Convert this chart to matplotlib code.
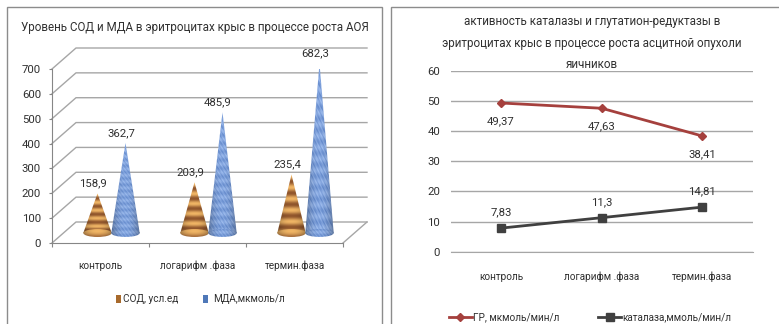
#!/usr/bin/env python
import matplotlib as mpl
mpl.use('Agg')
import matplotlib.pyplot as plt
from matplotlib.patches import Polygon, Ellipse, Rectangle
from matplotlib.transforms import Affine2D
import numpy as np

W, H = 779, 324
dpi = 100.0

plt.rcParams['font.family'] = ['Roboto', 'DejaVu Sans']

categories = ['контроль', 'логарифм .фаза', 'термин.фаза']

title_left = 'Уровень СОД и МДА в эритроцитах крыс в процессе роста АОЯ'
sod_name = 'СОД, усл.ед'
mda_name = 'МДА,мкмоль/л'
sod = [158.9, 203.9, 235.4]
mda = [362.7, 485.9, 682.3]
left_ticks = [0, 100, 200, 300, 400, 500, 600, 700]

title_right = ['активность каталазы и глутатион-редуктазы в',
               'эритроцитах крыс в процессе роста асцитной опухоли',
               'яичников']
gr_name = 'ГР, мкмоль/мин/л'
cat_name = 'каталаза,ммоль/мин/л'
gr = [49.37, 47.63, 38.41]
catalase = [7.83, 11.3, 14.81]
right_ticks = [0, 10, 20, 30, 40, 50, 60]

txt = '#303030'
grid = '#a6a6a6'
fs_title = 8.4
fs_val = 8.2
fs_cat = 7.2


def px_axes(fig, x0, y_top, x1, y_bot):
    return fig.add_axes([x0/W, 1-y_bot/H, (x1-x0)/W, (y_bot-y_top)/H])


def comma(v):
    return ('%g' % v).replace('.', ',')


def cone_texture(kind, n=160):
    # rows go from tip (0) to base (1), columns across the cone
    v = np.linspace(0, 1, n)[:, None]
    u = np.linspace(-1, 1, 60)[None, :]
    shade = 1.0-0.3*np.abs(u)**2.2
    if kind == 'sod':
        bands = 0.55+0.45*np.sin(v*2*np.pi*5.5+0.6)
        dark = np.array([0.50, 0.28, 0.14])
        light = np.array([0.90, 0.68, 0.38])
    else:
        bands = 0.55+0.12*np.sin(v*2*np.pi*15)+0.3*np.sin(u*37+v*83)*np.sin(v*211+u*11)
        dark = np.array([0.25, 0.41, 0.69])
        light = np.array([0.68, 0.78, 0.94])
    rgb = dark+(light-dark)*bands[:, :, None]
    return np.clip(rgb*shade[:, :, None]*1.05, 0, 1)


def draw_cone(ax, xc, val, half, kind, lift):
    ry = 16.0
    im = ax.imshow(cone_texture(kind), extent=[xc-half, xc+half, lift-ry, lift+val],
                   aspect='auto', zorder=3, interpolation='bilinear')
    body = Polygon([[xc-half, lift], [xc, lift+val], [xc+half, lift]], fc='none', ec='none')
    base = Ellipse((xc, lift), 2*half, 2*ry, fc='none', ec='none')
    ax.add_patch(body)
    ax.add_patch(base)
    im.set_clip_path(body)
    # second copy for the round bottom of the cone
    im2 = ax.imshow(cone_texture(kind)[-14:], extent=[xc-half, xc+half, lift-ry, lift+ry],
                    aspect='auto', zorder=3, interpolation='bilinear')
    im2.set_clip_path(base)


fig = plt.figure(figsize=(W/dpi, H/dpi), dpi=dpi)

# chart frames, they run off the bottom of the picture
for x0, y0, x1, y1 in [(7, 7, 382, 340), (391, 7, 790, 340)]:
    fig.add_artist(Rectangle((x0/W, 1-y1/H), (x1-x0)/W, (y1-y0)/H, transform=fig.transFigure,
                             fc='white', ec='#8c8c8c', lw=1.0, zorder=-5))

# left chart, pseudo 3d
ax1 = px_axes(fig, 52, 69, 343, 243)
ax1.patch.set_alpha(0)
ax1.set_xlim(0, 3)
ax1.set_ylim(0, 700)
dx, dy = 24.0, 21.0
for t in left_ticks:
    p0 = ax1.transData.transform((0, t))
    ax1.plot([p0[0], p0[0]+dx, p0[0]+dx+291], [p0[1], p0[1]+dy, p0[1]+dy],
             transform=Affine2D(), color=grid, lw=1.0, clip_on=False, zorder=1)
p0 = ax1.transData.transform((3, 0))
ax1.plot([p0[0], p0[0]+dx], [p0[1], p0[1]+dy], transform=Affine2D(), color=grid, lw=1.0,
         clip_on=False, zorder=1)
for s in ['top', 'right']:
    ax1.spines[s].set_visible(False)
for s in ['left', 'bottom']:
    ax1.spines[s].set_color('#868686')
ax1.set_yticks(left_ticks)
ax1.set_xticks([0, 1, 2, 3])
ax1.set_xticklabels([])
ax1.tick_params(axis='y', length=2, color='#868686', labelsize=fs_val, labelcolor=txt, pad=6)
ax1.tick_params(axis='x', length=3, color='#868686')

off_x = 11/291*3
off_y = 10/174*700
half = 14.2/291*3
for i in range(3):
    x1 = i+0.5+off_x-14.0/97
    x2 = i+0.5+off_x+14.0/97
    draw_cone(ax1, x1, sod[i], half, 'sod', off_y)
    draw_cone(ax1, x2, mda[i], half, 'mda', off_y)
    ax1.text(x1-0.046, sod[i]+off_y+40, comma(sod[i]), ha='center', va='center', fontsize=fs_val,
             color=txt, zorder=5, clip_on=False)
    ax1.text(x2-0.046, mda[i]+off_y+40, comma(mda[i]), ha='center', va='center', fontsize=fs_val,
             color=txt, zorder=5, clip_on=False)
    ax1.text(i+0.5, -92, categories[i], ha='center', va='center', fontsize=fs_cat, color=txt, clip_on=False)
ax1.set_xlim(0, 3)
ax1.set_ylim(0, 700)

fig.text(195/W, 1-27.5/H, title_left, ha='center', va='center', fontsize=fs_title, color=txt)

# left legend
for xp, xt, c1, name in [(118, 123, '#a86a2c', sod_name), (206, 213, '#4f78b8', mda_name)]:
    fig.add_artist(Rectangle(((xp-2.5)/W, 1-303/H), 5/W, 8/H, transform=fig.transFigure, fc=c1, ec='none'))
    fig.text(xt/W, 1-299/H, name, ha='left', va='center', fontsize=fs_cat, color=txt)

# right chart
ax2 = px_axes(fig, 450.7, 71, 752.7, 251.7)
ax2.patch.set_alpha(0)
x = np.arange(3)
l1, = ax2.plot(x, gr, color='#a5403d', lw=2.0, marker='D', ms=4.2, clip_on=False, zorder=4, label=gr_name)
l2, = ax2.plot(x, catalase, color='#404040', lw=2.0, marker='s', ms=6, clip_on=False, zorder=4, label=cat_name)
ax2.set_xlim(-0.5, 2.5)
ax2.set_ylim(0, 60)
ax2.set_yticks(right_ticks)
ax2.set_xticks(x)
ax2.set_xticklabels(categories, fontsize=fs_cat, color=txt)
ax2.tick_params(axis='x', length=0, pad=14.5)
ax2.tick_params(axis='y', length=0, labelsize=fs_val, labelcolor=txt, pad=7.7)
ax2.grid(axis='y', color=grid, lw=1.0)
ax2.set_axisbelow(True)
for s in ['top', 'right', 'left']:
    ax2.spines[s].set_visible(False)
ax2.spines['bottom'].set_color(grid)
for i in range(3):
    ax2.text(x[i], gr[i]-5.9, comma(gr[i]), ha='center', va='center', fontsize=fs_val, color=txt, zorder=5)
    ax2.text(x[i], catalase[i]+5.2, comma(catalase[i]), ha='center', va='center', fontsize=fs_val, color=txt, zorder=5)
for i, line in enumerate(title_right):
    fig.text(592/W, 1-(21.7+i*21.3)/H, line, ha='center', va='center', fontsize=fs_title, color=txt)

ax2.legend(handles=[l1, l2], ncols=2, loc='center', bbox_to_anchor=((590-450.7)/302, (251.7-317)/180.7),
           frameon=False, fontsize=fs_cat, labelcolor=txt, columnspacing=3.9, handlelength=2.3, handletextpad=0.1)

plt.savefig('out.png', dpi=dpi)
